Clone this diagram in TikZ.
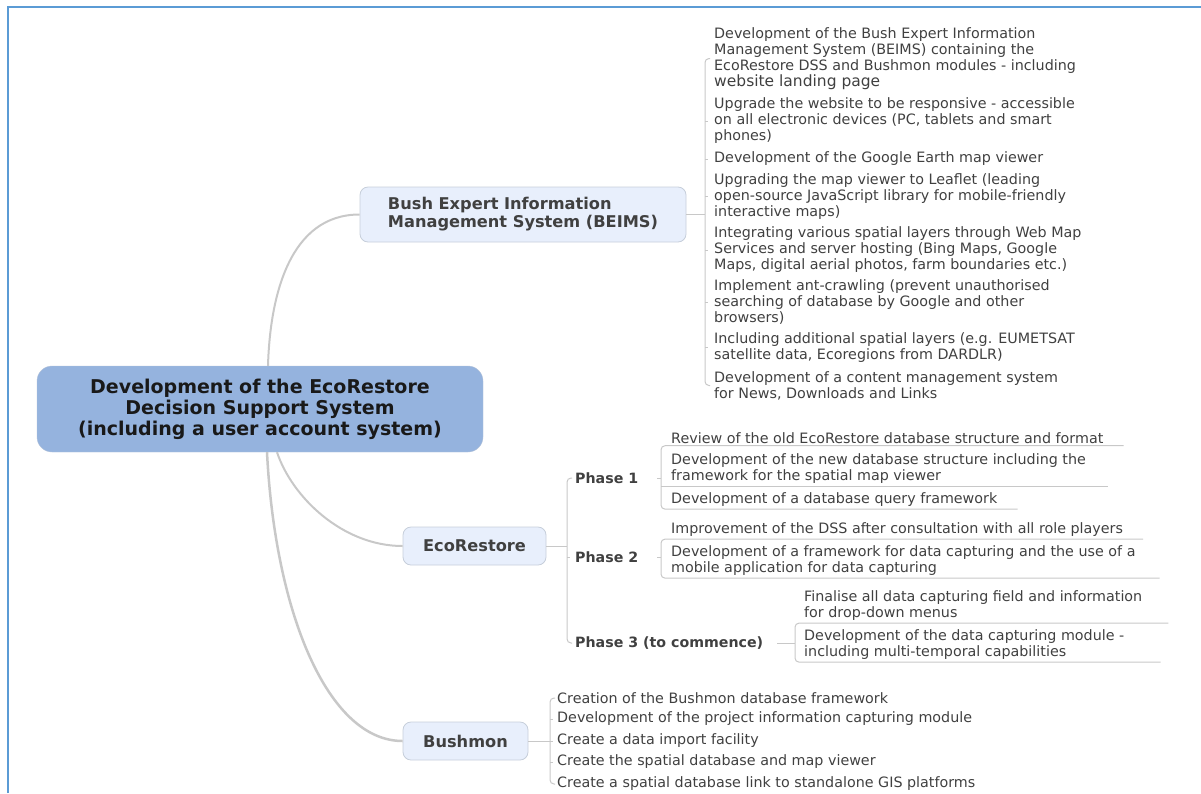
\documentclass[tikz,border=0pt]{standalone}
\usepackage{fontspec}
\setmainfont{DejaVu Sans}
\usepackage{xcolor}
\usetikzlibrary{positioning,calc}
\definecolor{rootblue}{HTML}{95B3DE}
\definecolor{rootline}{HTML}{B4C3DA}
\definecolor{subfill}{HTML}{E8EFFC}
\definecolor{subline}{HTML}{C6CEDA}
\definecolor{linkgray}{HTML}{C8C8C8}
\definecolor{textgray}{HTML}{404040}
\definecolor{frameblue}{HTML}{5B9BD5}

\begin{document}
\begin{tikzpicture}[
    x=1pt, y=-1pt,
    root/.style={draw=rootline, fill=rootblue, rounded corners=15pt, minimum width=446pt, minimum height=86pt, align=center, text=black!90, font=\fontsize{19}{21}\selectfont\bfseries},
    topic/.style={draw=subline, fill=subfill, line width=0.8pt, rounded corners=8pt, align=left, text=textgray, font=\fontsize{16.2}{18}\selectfont\bfseries},
    phase/.style={anchor=west, inner sep=0pt, text=textgray, font=\fontsize{14.2}{16}\selectfont\bfseries},
    leaf/.style={anchor=west, inner xsep=0pt, inner ysep=2pt, align=left, text=textgray, font=\fontsize{14.3}{16}\selectfont},
    branch/.style={draw=linkgray, line width=2pt},
    twig/.style={draw=linkgray, line width=1pt}
]
    \useasboundingbox (0,0) rectangle (1201,793);
    \draw[frameblue, line width=2.5pt] (8,793) -- (8,7) -- (1201,7);

    % Central topic on the left, three main topics fanned out to the right:
    % BEIMS at the top, EcoRestore in the middle, Bushmon at the bottom.
    \node[root] (root) at (260,409) {Development of the EcoRestore\\Decision Support System\\(including a user account system)};
    \node[topic, minimum width=326pt, minimum height=55pt] (beims) at (523,214.5) {Bush Expert Information\\Management System (BEIMS)};
    \node[topic, minimum width=143pt, minimum height=38pt, align=center] (eco) at (474.5,546) {EcoRestore};
    \node[topic, minimum width=125pt, minimum height=38pt, align=center] (bush) at (465.5,741) {Bushmon};

    % BEIMS tasks
    \node[leaf] (b1) at (714,58.5) {Development of the Bush Expert Information\\Management System (BEIMS) containing the\\EcoRestore DSS and Bushmon modules - including\\{\fontsize{15.5}{16}\selectfont website landing page}};
    \node[leaf] (b2) at (714,121) {Upgrade the website to be responsive - accessible\\on all electronic devices (PC, tablets and smart\\phones)};
    \node[leaf] (b3) at (714,159) {Development of the Google Earth map viewer};
    \node[leaf] (b4) at (714,196.5) {Upgrading the map viewer to Leaflet (leading\\open-source JavaScript library for mobile-friendly\\interactive maps)};
    \node[leaf] (b5) at (714,250) {Integrating various spatial layers through Web Map\\Services and server hosting (Bing Maps, Google\\Maps, digital aerial photos, farm boundaries etc.)};
    \node[leaf] (b6) at (714,302.5) {Implement ant-crawling (prevent unauthorised\\searching of database by Google and other\\browsers)};
    \node[leaf] (b7) at (714,347.5) {Including additional spatial layers (e.g. EUMETSAT\\satellite data, Ecoregions from DARDLR)};
    \node[leaf] (b8) at (714,385.5) {Development of a content management system\\for News, Downloads and Links};

    % EcoRestore phases and their tasks
    \node[phase] (ph1) at (575,478) {Phase 1};
    \node[phase] (ph2) at (575,557) {Phase 2};
    \node[phase] (ph3) at (575,643) {Phase 3 (to commence)};
    \node[leaf] (p11) at (671,438) {Review of the old EcoRestore database structure and format};
    \node[leaf] (p12) at (671,469) {Development of the new database structure including the\\framework for the spatial map viewer};
    \node[leaf] (p13) at (671,500) {Development of a database query framework};
    \node[leaf] (p21) at (671,530) {Improvement of the DSS after consultation with all role players};
    \node[leaf] (p22) at (671,561) {Development of a framework for data capturing and the use of a\\mobile application for data capturing};
    \node[leaf] (p31) at (804,606) {Finalise all data capturing field and information\\for drop-down menus};
    \node[leaf] (p32) at (804,645) {Development of the data capturing module -\\including multi-temporal capabilities};

    % Bushmon tasks
    \node[leaf] (k1) at (557,698) {Creation of the Bushmon database framework};
    \node[leaf] (k2) at (557,719) {Development of the project information capturing module};
    \node[leaf] (k3) at (557,741) {Create a data import facility};
    \node[leaf] (k4) at (557,762) {Create the spatial database and map viewer};
    \node[leaf] (k5) at (557,784) {Create a spatial database link to standalone GIS platforms};

    % main branches
    \draw[branch] ([xshift=8pt]root.north) .. controls +(2,-70) and +(-70,0) .. (beims.west);
    \draw[branch] ([xshift=17pt]root.south) .. controls +(15,45) and +(-60,0) .. (eco.west);
    \draw[branch, line width=2.5pt] ([xshift=7pt]root.south) .. controls +(8,160) and +(-75,0) .. (bush.west);

    % BEIMS bracket
    \draw[twig] (beims.east) -- ([xshift=-9pt]beims.east -| b1.west);
    \draw[twig, rounded corners=4pt] ([xshift=-4pt]b1.west) -| ([xshift=-9pt]b8.west) -- ([xshift=-4pt]b8.west);
    \foreach \i in {2,...,7}
        \draw[twig] ([xshift=-9pt]b\i.west) -- ([xshift=-6pt]b\i.west);

    % EcoRestore bracket
    \draw[twig] (eco.east) -- ([xshift=-8pt]eco.east -| ph1.west);
    \draw[twig, rounded corners=4pt] ([xshift=-3pt]ph1.west) -| ([xshift=-8pt]ph3.west) -- ([xshift=-3pt]ph3.west);
    \draw[twig] ([xshift=-8pt]ph2.west) -- ([xshift=-5pt]ph2.west);

    % phase tasks, underlined
    \draw[twig] ([xshift=19pt]ph1.east) -- ([xshift=-10pt]ph1.east -| p12.west);
    \draw[twig, rounded corners=4pt] ([xshift=20pt]p11.south east) -- ([xshift=-10pt]p11.south west) -- ([xshift=-10pt]p13.south west) -- ([xshift=20pt]p13.south east);
    \draw[twig] ([xshift=-10pt]p12.south west) -- ([xshift=22pt]p12.south east);
    \draw[twig] ([xshift=19pt]ph2.east) -- ([xshift=-10pt]ph2.east -| p22.west);
    \draw[twig, rounded corners=4pt] ([xshift=20pt]p21.south east) -- ([xshift=-10pt]p21.south west) -- ([xshift=-10pt]p22.south west) -- ([xshift=24pt]p22.south east);
    \draw[twig] ([xshift=14pt]ph3.east) -- ([xshift=-9pt]ph3.east -| p32.west);
    \draw[twig, rounded corners=4pt] ([xshift=26pt]p31.south east) -- ([xshift=-9pt]p31.south west) -- ([xshift=-9pt]p32.south west) -- ([xshift=36pt]p32.south east);

    % Bushmon bracket
    \draw[twig] (bush.east) -- ([xshift=-7pt]bush.east -| k1.west);
    \draw[twig, rounded corners=4pt] ([xshift=-2pt]k1.west) -| ([xshift=-7pt]k5.west) -- ([xshift=-2pt]k5.west);
    \foreach \i in {2,3,4}
        \draw[twig] ([xshift=-7pt]k\i.west) -- ([xshift=-4pt]k\i.west);
\end{tikzpicture}
\end{document}
